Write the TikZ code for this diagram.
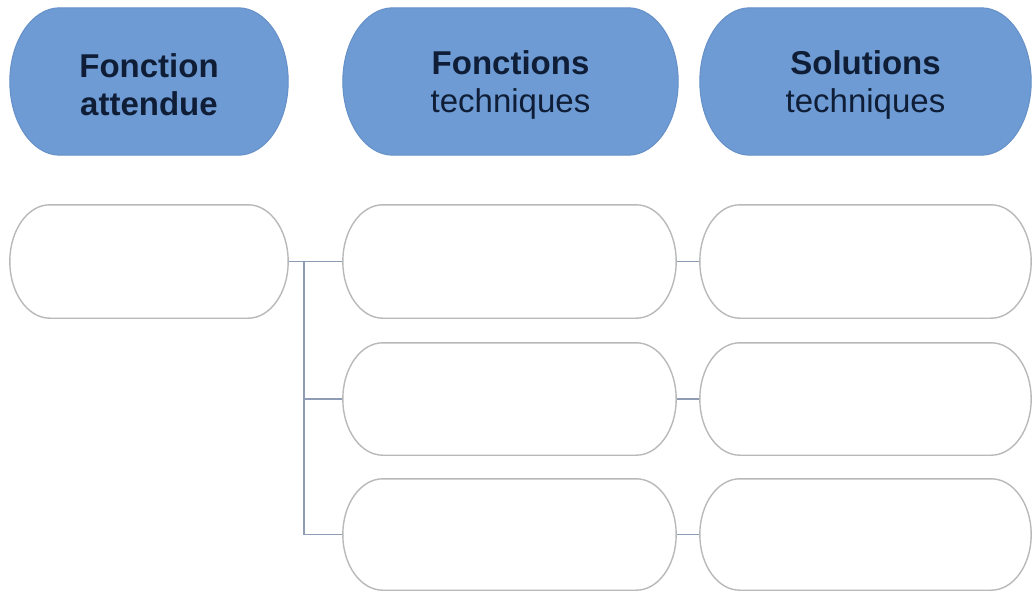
\documentclass[tikz,border=0pt]{standalone}
\usepackage{fontspec}
\setmainfont{Liberation Sans}
\usetikzlibrary{calc}
\definecolor{hdrfill}{HTML}{6E9BD3}
\definecolor{hdrline}{HTML}{6690C8}
\definecolor{boxline}{HTML}{B9B9B9}
\definecolor{connline}{HTML}{8E9DB5}
\definecolor{txt}{HTML}{0F1E36}
\newcommand\pillout[3]{%
  \draw[#3] let \p1=(#1.north west), \p2=(#1.south east), \n1={(\y1-\y2)/2} in
    (\x1+#2pt,\y1) -- (\x2-#2pt,\y1)
    arc[start angle=90,end angle=-90,x radius=#2pt,y radius=\n1]
    -- (\x1+#2pt,\y2)
    arc[start angle=270,end angle=90,x radius=#2pt,y radius=\n1] -- cycle;
}
\begin{document}
\begin{tikzpicture}[x=1pt,y=1pt,
  slot/.style={shape=rectangle,draw=none,inner sep=0pt,minimum height=#1},
  hdrtext/.style={align=center,text=txt,font=\fontsize{33}{38}\selectfont},
  hdrshape/.style={fill=hdrfill,draw=hdrline,line width=1pt},
  boxshape/.style={fill=white,draw=boxline,line width=1.4pt},
  conn/.style={draw=connline,line width=1.4pt}]
\useasboundingbox[fill=white] (0,0) rectangle (1032,-591);

% header slots
\node[slot=147pt,minimum width=278pt] (H1) at (149,-81.5) {};
\node[slot=147pt,minimum width=335pt] (H2) at (510.5,-81.5) {};
\node[slot=147pt,minimum width=331pt] (H3) at (865.5,-81.5) {};
\pillout{H1}{50}{hdrshape}
\pillout{H2}{50}{hdrshape}
\pillout{H3}{50}{hdrshape}
\node[hdrtext,yshift=-3pt] (H1t) at (H1) {\textbf{Fonction}\\\textbf{attendue}};
\node[hdrtext,yshift=-3pt] (H2t) at (H2) {\textbf{Fonctions}\\techniques};
\node[hdrtext,yshift=-3pt] (H3t) at (H3) {\textbf{Solutions}\\techniques};

% box slots
\node[slot=113pt,minimum width=278pt] (A) at (149,-261.5) {};
\node[slot=113pt,minimum width=333pt] (B1) at (509.5,-261.5) {};
\node[slot=112pt,minimum width=333pt] (B2) at (509.5,-399) {};
\node[slot=111pt,minimum width=333pt] (B3) at (509.5,-534.5) {};
\node[slot=113pt,minimum width=331pt] (C1) at (865.5,-261.5) {};
\node[slot=112pt,minimum width=331pt] (C2) at (865.5,-399) {};
\node[slot=111pt,minimum width=331pt] (C3) at (865.5,-534.5) {};

% connectors
\coordinate (T) at (304,-261.5);
\draw[conn] (A.east) -- (B1.west);
\draw[conn] (T) |- (B3.west);
\draw[conn] (T |- B2.west) -- (B2.west);
\draw[conn] (B1.east) -- (C1.west);
\draw[conn] (B2.east) -- (C2.west);
\draw[conn] (B3.east) -- (C3.west);

\pillout{A}{40}{boxshape}
\pillout{B1}{40}{boxshape}
\pillout{B2}{40}{boxshape}
\pillout{B3}{40}{boxshape}
\pillout{C1}{40}{boxshape}
\pillout{C2}{40}{boxshape}
\pillout{C3}{40}{boxshape}
\end{tikzpicture}
\end{document}
